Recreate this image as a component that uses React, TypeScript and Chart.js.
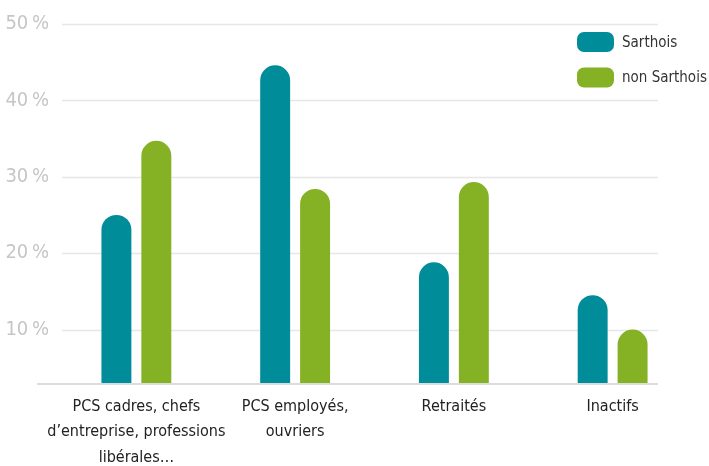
import React, { useEffect, useRef } from "react";
import { Chart, registerables } from "chart.js";

Chart.register(...registerables);

const categories: string[][] = [
  ["PCS cadres, chefs", "d’entreprise, professions", "libérales…"],
  ["PCS employés,", "ouvriers"],
  ["Retraités"],
  ["Inactifs"],
];
const seriesLabels = ["Sarthois", "non Sarthois"];
const sarthois = [25, 44.6, 18.8, 14.5];
const nonSarthois = [34.7, 28.4, 29.3, 10];
const yTicks = [10, 20, 30, 40, 50];

const COLORS = ["#008c99", "#85b125"];
const FONT = "'DejaVu Sans Condensed', 'Liberation Sans Narrow', Arial, sans-serif";

const gridPlugin = {
  id: "customGrid",
  beforeDatasetsDraw(chart: any) {
    const { ctx, chartArea, scales } = chart;
    const y = scales.y;
    const gl = chartArea.left + 5;
    const gr = chartArea.right - 34;
    ctx.save();
    ctx.strokeStyle = "#e6e6e6";
    ctx.lineWidth = 1.5;
    yTicks.forEach((v) => {
      const py = Math.round(y.getPixelForValue(v)) + 0.5;
      ctx.beginPath();
      ctx.moveTo(gl, py);
      ctx.lineTo(gr, py);
      ctx.stroke();
    });
    ctx.restore();
  },
  afterDatasetsDraw(chart: any) {
    const { ctx, chartArea } = chart;
    ctx.save();
    ctx.strokeStyle = "#dcdcdc";
    ctx.lineWidth = 2;
    const py = chartArea.bottom + 1;
    ctx.beginPath();
    ctx.moveTo(chartArea.left - 20, py);
    ctx.lineTo(chartArea.right - 34, py);
    ctx.stroke();
    ctx.restore();
  },
};

const legendPlugin = {
  id: "customLegend",
  afterDraw(chart: any) {
    const { ctx } = chart;
    const x0 = 577;
    const y0 = 32;
    const w = 37;
    const h = 20;
    const gap = 35.5;
    ctx.save();
    chart.data.datasets.forEach((ds: any, i: number) => {
      const y = y0 + i * gap;
      ctx.fillStyle = ds.backgroundColor;
      ctx.beginPath();
      (ctx as any).roundRect(x0, y, w, h, 7);
      ctx.fill();
      ctx.fillStyle = "#333333";
      ctx.font = `15px ${FONT}`;
      ctx.textBaseline = "middle";
      ctx.textAlign = "left";
      ctx.fillText(ds.label, x0 + w + 8, y + h / 2 + 1);
    });
    ctx.restore();
  },
};

export default function App() {
  const ref = useRef<HTMLCanvasElement>(null);
  useEffect(() => {
    document.body.style.margin = "0";
    const chart = new Chart(ref.current!, {
      type: "bar",
      data: {
        labels: categories as any,
        datasets: [
          {
            label: seriesLabels[0],
            data: sarthois,
            backgroundColor: COLORS[0],
            borderRadius: 15,
            borderSkipped: "start",
            categoryPercentage: 0.503,
            barPercentage: 0.75,
          },
          {
            label: seriesLabels[1],
            data: nonSarthois,
            backgroundColor: COLORS[1],
            borderRadius: 15,
            borderSkipped: "start",
            categoryPercentage: 0.503,
            barPercentage: 0.75,
          },
        ],
      },
      options: {
        animation: false,
        responsive: false,
        layout: { padding: { left: 0, right: 17, top: 24, bottom: 0 } },
        plugins: {
          legend: { display: false },
          tooltip: { enabled: false },
        },
        scales: {
          x: {
            grid: { display: false, drawTicks: false },
            border: { display: false },
            ticks: {
              padding: 11,
              color: "#222222",
              font: { family: FONT, size: 16, lineHeight: 1.59 },
              maxRotation: 0,
              autoSkip: false,
            },
            afterFit: (s: any) => {
              s.height = 83;
            },
          },
          y: {
            min: 3,
            max: 50,
            grid: { display: false, drawTicks: false },
            border: { display: false },
            afterBuildTicks: (axis: any) => {
              axis.ticks = yTicks.map((v) => ({ value: v }));
            },
            ticks: {
              padding: 8,
              color: "#c6c6c6",
              font: { family: FONT, size: 20 },
              callback: (v: any) => `${v}\u202f%`,
            },
            afterFit: (s: any) => {
              s.width = 57;
            },
          },
        },
      },
      plugins: [gridPlugin, legendPlugin],
    });
    return () => chart.destroy();
  }, []);
  return (
    <div style={{ width: 709, height: 466 }}>
      <canvas ref={ref} width={709} height={466} style={{ display: "block" }} />
    </div>
  );
}
